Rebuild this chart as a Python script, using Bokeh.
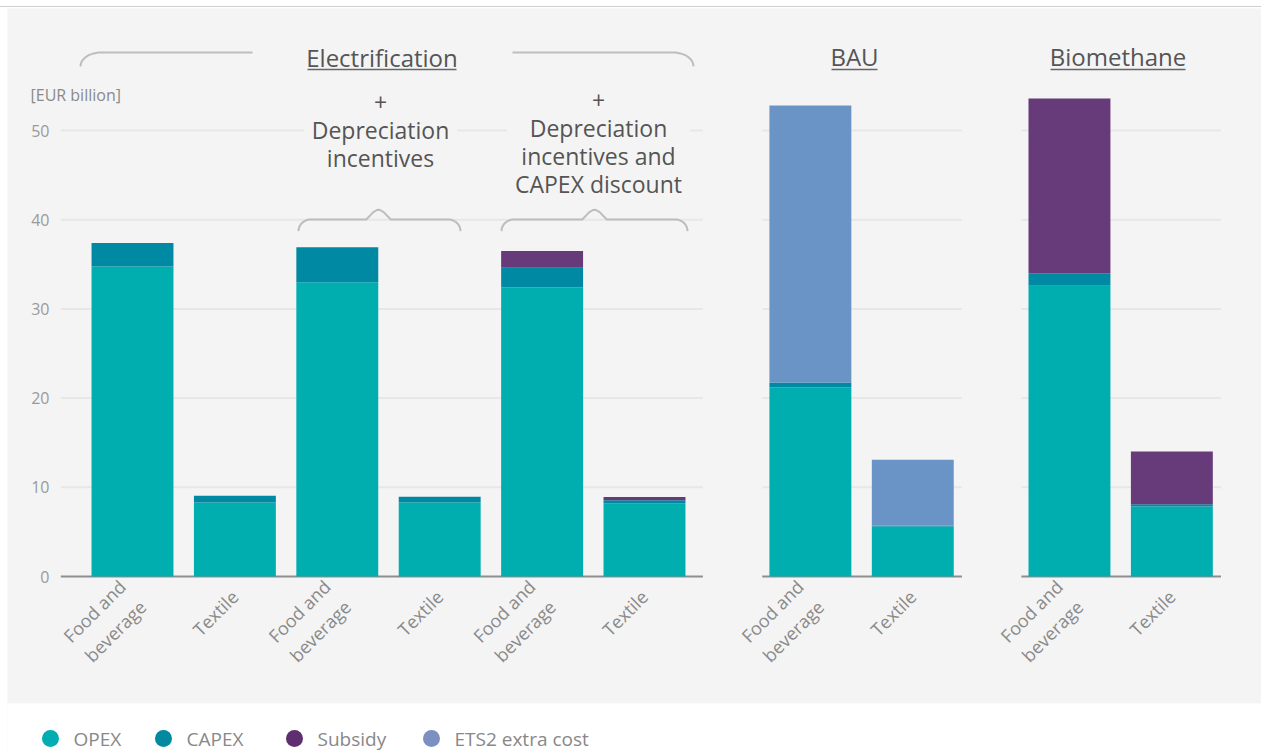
from math import pi
import numpy as np
from bokeh.plotting import figure
from bokeh.models import ColumnDataSource, Range1d, FixedTicker, Div
from bokeh.layouts import column
from bokeh.core.properties import value
from bokeh.embed import file_html
from bokeh.resources import INLINE

FONT = "Open Sans"

# ---- data -------------------------------------------------------------
scenarios = [
    "Electrification",
    "Electrification + Depreciation incentives",
    "Electrification + Depreciation incentives and CAPEX discount",
    "BAU",
    "Biomethane",
]
sectors = ["Food and beverage", "Textile"]
sector_labels = ["Food and\nbeverage", "Textile"]

# one value per bar: scenario by scenario, Food and beverage then Textile
opex    = [34.75, 8.30, 33.00, 8.30, 32.40, 8.20, 21.20, 5.60, 32.60, 7.85]
capex   = [2.65, 0.75, 3.90, 0.65, 2.20, 0.35, 0.55, 0.10, 1.40, 0.25]
subsidy = [0.00, 0.00, 0.00, 0.00, 1.90, 0.35, 0.00, 0.00, 19.60, 5.90]
ets2    = [0.00, 0.00, 0.00, 0.00, 0.00, 0.00, 31.05, 7.40, 0.00, 0.00]

series = ["OPEX", "CAPEX", "Subsidy", "ETS2 extra cost"]
bar_colors = ["#00ADAF", "#0089A2", "#673A7A", "#6A94C5"]
legend_colors = ["#00ADB0", "#00899F", "#5E2E70", "#7B8FC0"]

y_ticks = [0, 10, 20, 30, 40, 50]
y_unit = "[EUR billion]"

panel_titles = ["Electrification", "BAU", "Biomethane"]
policy_notes = ["+\nDepreciation\nincentives",
                "+\nDepreciation\nincentives and\nCAPEX discount"]

# ---- layout -----------------------------------------------------------
W, H_TOP, H = 1261, 7, 744            # page width, top rule, chart height
SLOT_PX, X0_PX = 102.4, 132.0         # pixels per bar slot, first bar centre
UNIT_PX, BASE_PX = 8.92, 576.0        # pixels per EUR bn, baseline row


def px_x(px):
    return (px - X0_PX) / SLOT_PX


def px_y(py):
    return (BASE_PX - py) / UNIT_PX


panel_of = [0, 0, 0, 1, 2]          # which panel each scenario sits in
panel_origin = [0.0, 6.62, 9.15]    # x of the first bar of each panel
pad_left = [0.70, 0.47, 0.47]
pad_right = [0.57, 0.48, 0.48]

xs, labels, panel_bars = [], [], {0: [], 1: [], 2: []}
slot = {0: 0, 1: 0, 2: 0}
for s, name in enumerate(scenarios):
    pnl = panel_of[s]
    for j, sec in enumerate(sectors):
        x = round(panel_origin[pnl] + slot[pnl], 3)
        slot[pnl] += 1
        xs.append(x)
        labels.append(sector_labels[j])
        panel_bars[pnl].append(x)

src = ColumnDataSource(dict(x=xs, OPEX=opex, CAPEX=capex, Subsidy=subsidy,
                            **{"ETS2 extra cost": ets2}))

BG = "#F4F4F4"
p = figure(width=W, height=H,
           x_range=Range1d(px_x(7), px_x(W)),
           y_range=Range1d(px_y(H_TOP + H), px_y(H_TOP + 1)),
           output_backend="svg", toolbar_location=None,
           min_border_left=7, min_border_right=0, min_border_top=1,
           min_border_bottom=0,
           background_fill_color=BG, border_fill_color="white",
           outline_line_color=None)
p.xgrid.visible = False
p.ygrid.visible = False

# y axis, pinned just left of the first panel
yax = p.yaxis[0]
yax.fixed_location = px_x(60)
yax.ticker = FixedTicker(ticks=y_ticks)
yax.axis_line_color = None
yax.major_tick_line_color = None
yax.minor_tick_line_color = None
yax.major_label_text_color = "#9A9A9A"
yax.major_label_text_font = FONT
yax.major_label_text_font_size = "16px"
yax.major_label_standoff = 5

# x axis on the zero line: one rotated label per bar
xax = p.xaxis[0]
xax.fixed_location = 0
xax.ticker = FixedTicker(ticks=xs)
xax.major_label_overrides = {x: lab for x, lab in zip(xs, labels)}
xax.major_label_orientation = pi / 4
xax.axis_line_color = None
xax.major_tick_line_color = None
xax.minor_tick_line_color = None
xax.major_label_text_color = "#8A8A8A"
xax.major_label_text_font = FONT
xax.major_label_text_font_size = "18px"
xax.major_label_standoff = 11

# white strip under the chart panel that carries the legend
p.quad(left=[px_x(0)], right=[px_x(W)], bottom=[px_y(H_TOP + H)],
       top=[px_y(703)], fill_color="white", line_color=None)

# gridlines and baseline, drawn panel by panel
gx0, gx1, gy = [], [], []
bx0, bx1 = [], []
for pnl, bars in panel_bars.items():
    left, right = bars[0] - pad_left[pnl], bars[-1] + pad_right[pnl]
    for t in y_ticks[1:]:
        gx0.append(left); gx1.append(right); gy.append(t)
    bx0.append(left); bx1.append(right)
p.segment(x0=gx0, y0=gy, x1=gx1, y1=gy, line_color="#E6E8E8", line_width=2)
p.segment(x0=bx0, y0=[0] * len(bx0), x1=bx1, y1=[0] * len(bx0),
          line_color="#8E8E8E", line_width=2)

# stacked bars
p.vbar_stack(series, x="x", width=0.8, color=bar_colors, line_color=None,
             source=src)

# unit label
p.text(x=[px_x(30)], y=[px_y(94)], text=[y_unit], text_font=value(FONT),
       text_font_size="16px", text_color="#8A8A8A", text_baseline="middle",
       text_align="left")

# braces
BRACE = dict(line_color="#BDBDBD", line_width=2)


def arc(xc, yc, rx, ry, a0, a1, n=14):
    t = np.radians(np.linspace(a0, a1, n))
    return list(xc + rx * np.cos(t)), list(yc + ry * np.sin(t))


def small_brace(x0, x1, xc, yl, drop=1.3, peak=1.1, rx=0.12):
    ax, ay = arc(x0 + rx, yl - drop, rx, drop, 180, 90)
    bx, by = arc(x1 - rx, yl - drop, rx, drop, 90, 0)
    px = [xc - 0.12, xc - 0.05, xc - 0.015, xc, xc + 0.015, xc + 0.05, xc + 0.12]
    py = [yl, yl + peak * 0.75, yl + peak * 0.97, yl + peak,
          yl + peak * 0.97, yl + peak * 0.75, yl]
    p.line(ax + px + bx, ay + py + by, **BRACE)


# top brace over the electrification panel, open where its title sits
top_y, top_drop, top_rx = px_y(52), 1.55, 0.2
lx, ly = arc(px_x(80) + top_rx, top_y - top_drop, top_rx, top_drop, 180, 90)
p.line(lx + [px_x(252)], ly + [top_y], **BRACE)
rx_, ry_ = arc(px_x(693) - top_rx, top_y - top_drop, top_rx, top_drop, 90, 0)
p.line([px_x(512)] + rx_, [top_y] + ry_, **BRACE)

small_brace(px_x(298), px_x(460), px_x(378), px_y(219))
small_brace(px_x(501), px_x(687), px_x(594), px_y(219))

# policy notes above the braces
p.text(x=[px_x(380), px_x(598)], y=[px_y(129.5), px_y(141.5)],
       text=policy_notes,
       text_font=value(FONT), text_font_size="23px", text_color="#555555",
       text_align="center", text_baseline="middle", text_line_height=0.88,
       background_fill_color=BG, padding=8)

# panel titles, underlined
title_x = [px_x(381.5), px_x(854), px_x(1117.5)]
title_half = [74.5 / SLOT_PX, 23 / SLOT_PX, 67.5 / SLOT_PX]
p.text(x=title_x, y=[px_y(57), px_y(56), px_y(56)], text=panel_titles,
       text_font=value(FONT), text_font_size="24px", text_color="#555555",
       text_align="center", text_baseline="middle")
p.segment(x0=[c - h for c, h in zip(title_x, title_half)], y0=[px_y(69)] * 3,
          x1=[c + h for c, h in zip(title_x, title_half)], y1=[px_y(69)] * 3,
          line_color="#666666", line_width=1.5)

# legend row in the white strip: round swatch, then the series name
legend_px = [50, 163, 294, 431]
legend_y = px_y(738)
p.scatter(x=[px_x(v) for v in legend_px], y=[legend_y] * 4, marker="circle",
          size=17, color=legend_colors, line_color=None)
p.text(x=[px_x(v + 23) for v in legend_px], y=[legend_y] * 4, text=series,
       text_font=value(FONT), text_font_size="19px", text_color="#888888",
       text_baseline="middle", text_align="left")

top_rule = Div(text="", width=W, height=H_TOP, margin=(0, 0, 0, 0),
               styles={"border-bottom": "1px solid #CFCFCF",
                       "box-sizing": "border-box"})

layout = column(top_rule, p, spacing=0)
open("out.html", "w").write(file_html(layout, INLINE))
